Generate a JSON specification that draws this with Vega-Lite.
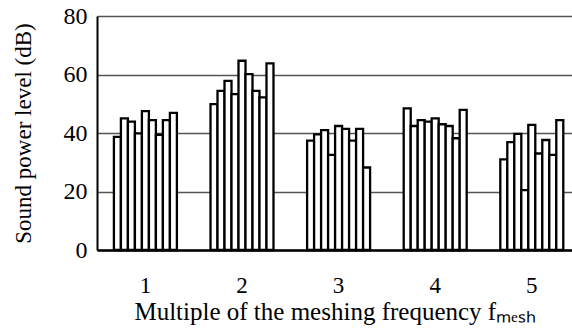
{
  "$schema": "https://vega.github.io/schema/vega-lite/v6.json",
  "width": 475,
  "height": 234,
  "autosize": {"type": "none"},
  "padding": {"left": 97, "top": 16, "right": 0, "bottom": 81},
  "background": "white",
  "config": {"view": {"stroke": null}, "font": "Liberation Serif"},
  "data": {
    "values": [
      {"multiple": "1", "bar": 1, "level": 38.7},
      {"multiple": "1", "bar": 2, "level": 45.0},
      {"multiple": "1", "bar": 3, "level": 43.9},
      {"multiple": "1", "bar": 4, "level": 39.9},
      {"multiple": "1", "bar": 5, "level": 47.5},
      {"multiple": "1", "bar": 6, "level": 44.4},
      {"multiple": "1", "bar": 7, "level": 39.4},
      {"multiple": "1", "bar": 8, "level": 44.4},
      {"multiple": "1", "bar": 9, "level": 46.9},
      {"multiple": "2", "bar": 1, "level": 49.9},
      {"multiple": "2", "bar": 2, "level": 54.4},
      {"multiple": "2", "bar": 3, "level": 57.8},
      {"multiple": "2", "bar": 4, "level": 53.3},
      {"multiple": "2", "bar": 5, "level": 64.7},
      {"multiple": "2", "bar": 6, "level": 60.1},
      {"multiple": "2", "bar": 7, "level": 54.4},
      {"multiple": "2", "bar": 8, "level": 52.2},
      {"multiple": "2", "bar": 9, "level": 63.8},
      {"multiple": "3", "bar": 1, "level": 37.4},
      {"multiple": "3", "bar": 2, "level": 39.5},
      {"multiple": "3", "bar": 3, "level": 41.0},
      {"multiple": "3", "bar": 4, "level": 32.5},
      {"multiple": "3", "bar": 5, "level": 42.4},
      {"multiple": "3", "bar": 6, "level": 41.4},
      {"multiple": "3", "bar": 7, "level": 37.4},
      {"multiple": "3", "bar": 8, "level": 41.4},
      {"multiple": "3", "bar": 9, "level": 28.2},
      {"multiple": "4", "bar": 1, "level": 48.4},
      {"multiple": "4", "bar": 2, "level": 42.4},
      {"multiple": "4", "bar": 3, "level": 44.4},
      {"multiple": "4", "bar": 4, "level": 43.9},
      {"multiple": "4", "bar": 5, "level": 45.0},
      {"multiple": "4", "bar": 6, "level": 43.0},
      {"multiple": "4", "bar": 7, "level": 42.4},
      {"multiple": "4", "bar": 8, "level": 38.2},
      {"multiple": "4", "bar": 9, "level": 47.9},
      {"multiple": "5", "bar": 1, "level": 31.0},
      {"multiple": "5", "bar": 2, "level": 36.9},
      {"multiple": "5", "bar": 3, "level": 39.7},
      {"multiple": "5", "bar": 4, "level": 20.5},
      {"multiple": "5", "bar": 5, "level": 42.8},
      {"multiple": "5", "bar": 6, "level": 33.0},
      {"multiple": "5", "bar": 7, "level": 37.6},
      {"multiple": "5", "bar": 8, "level": 32.5},
      {"multiple": "5", "bar": 9, "level": 44.4}
    ]
  },
  "mark": {"type": "bar", "fill": "white", "stroke": "black", "strokeWidth": 2.3},
  "encoding": {
    "x": {
      "field": "multiple",
      "type": "ordinal",
      "scale": {"paddingInner": 0.348, "paddingOuter": 0.1326, "align": 0.66},
      "axis": {
        "title": "Multiple of the meshing frequency fₘₑₛₕ",
        "titleFont": "Liberation Serif",
        "titleFontSize": 25,
        "titleFontWeight": "normal",
        "titleColor": "black",
        "titlePadding": 2,
        "labelAngle": 0,
        "labelFontSize": 23,
        "labelColor": "black",
        "labelPadding": 24,
        "ticks": false,
        "grid": false,
        "domainColor": "black",
        "domainWidth": 2.5
      }
    },
    "xOffset": {"field": "bar", "type": "ordinal", "scale": {"paddingInner": 0, "paddingOuter": 0}},
    "y": {
      "field": "level",
      "type": "quantitative",
      "scale": {"domain": [0, 80]},
      "axis": {
        "values": [0, 20, 40, 60, 80],
        "title": "Sound power level (dB)",
        "titleFont": "Liberation Serif",
        "titleFontSize": 23,
        "titleFontWeight": "normal",
        "titleColor": "black",
        "titlePadding": 28,
        "labelFontSize": 24,
        "labelColor": "black",
        "labelPadding": 10,
        "ticks": false,
        "grid": true,
        "gridColor": "#555555",
        "gridWidth": 1.5,
        "gridOpacity": 1,
        "domainColor": "black",
        "domainWidth": 2
      }
    }
  }
}
